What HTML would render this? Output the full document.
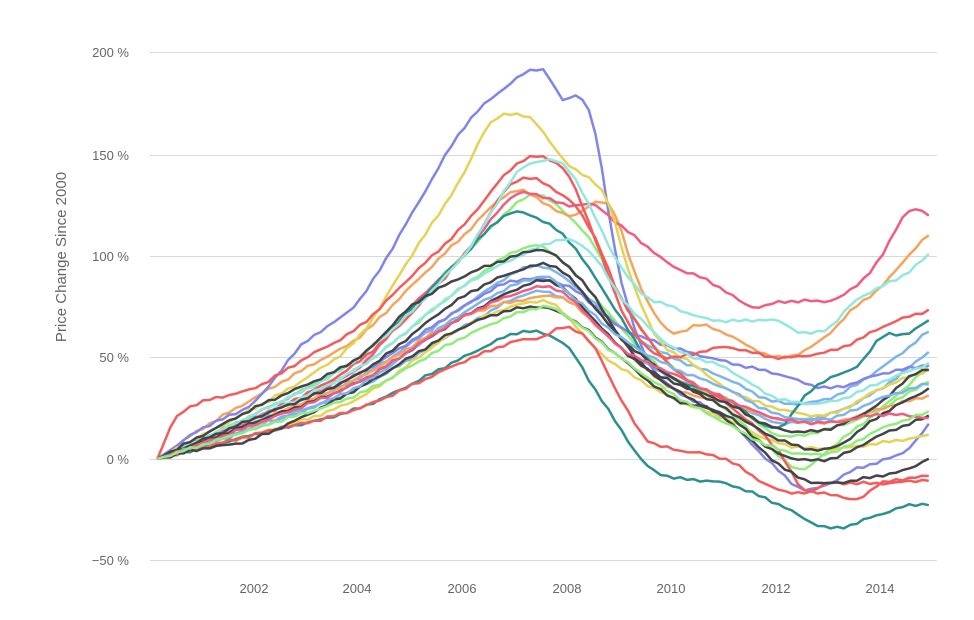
<!DOCTYPE html>
<html><head><meta charset="utf-8"><style>
html,body{margin:0;padding:0;background:#fff;}
svg{display:block;font-family:"Liberation Sans",sans-serif;}
</style></head><body>
<svg id="c" width="974" height="620" xmlns="http://www.w3.org/2000/svg">
<g stroke="#d8d8d8" stroke-width="1">
<line x1="150" x2="937" y1="52.5" y2="52.5"/>
<line x1="150" x2="937" y1="155.5" y2="155.5"/>
<line x1="150" x2="937" y1="256.5" y2="256.5"/>
<line x1="150" x2="937" y1="357.5" y2="357.5"/>
<line x1="150" x2="937" y1="459.5" y2="459.5"/>
<line x1="150" x2="937" y1="560.5" y2="560.5"/>
</g>
<g fill="#666" font-size="13" text-anchor="end">
<text x="129" y="57">200 %</text>
<text x="129" y="160">150 %</text>
<text x="129" y="261">100 %</text>
<text x="129" y="362">50 %</text>
<text x="129" y="464">0 %</text>
<text x="129" y="565">−50 %</text>
</g>
<g fill="#666" font-size="13" text-anchor="middle">
<text x="254" y="593">2002</text>
<text x="357" y="593">2004</text>
<text x="462" y="593">2006</text>
<text x="567" y="593">2008</text>
<text x="671" y="593">2010</text>
<text x="776" y="593">2012</text>
<text x="880" y="593">2014</text>
</g>
<text transform="translate(66,257) rotate(-90)" fill="#666" font-size="15" text-anchor="middle">Price Change Since 2000</text>
<g id="lines" fill="none" stroke-width="2.5" stroke-linejoin="round"></g>
</svg>
<script>
var S=[
["#7cb5ec",[[2000.15,0],[2002,18],[2004,40],[2006,75],[2007.3,95],[2008,88],[2009,65],[2010,50],[2011,40],[2012,28],[2013,30],[2014,45],[2015,65]]],
["#7cb5ec",[[2000.15,0],[2002,15],[2004,35],[2006,65],[2007.3,82],[2008,78],[2009,55],[2010,40],[2011,30],[2012,18],[2013,22],[2014,35],[2015,55]]],
["#90ed7d",[[2000.15,0],[2002,22],[2004,50],[2005,75],[2006,100],[2007.3,130],[2008,120],[2008.5,105],[2009,80],[2010,45],[2011,25],[2012,2],[2012.5,-5],[2013,5],[2014,25],[2015,48]]],
["#90ed7d",[[2000.15,0],[2002,20],[2004,45],[2006,85],[2007.3,105],[2008,95],[2009,65],[2010,40],[2011,30],[2012,12],[2013,15],[2014,25],[2015,40]]],
["#f7a35c",[[2000.15,0],[2001,15],[2002,30],[2003,45],[2004,60],[2005,85],[2006,110],[2007,132],[2008,120],[2008.8,125],[2009.3,90],[2009.7,70],[2010,62],[2010.5,66],[2011,62],[2011.5,55],[2012,50],[2012.5,53],[2013,62],[2013.5,75],[2014,85],[2014.5,100],[2015,113]]],
["#f7a35c",[[2000.15,0],[2002,18],[2004,40],[2006,70],[2007.5,80],[2008,78],[2009,55],[2010,35],[2011,28],[2012,20],[2013,18],[2014,25],[2015,32]]],
["#8085e9",[[2000.15,0],[2001,15],[2002,28],[2002.7,50],[2003,58],[2004,78],[2005,120],[2006,163],[2006.8,183],[2007.5,192],[2007.9,177],[2008.2,179],[2008.5,163],[2009,90],[2009.5,50],[2010,35],[2011,20],[2012,-5],[2012.5,-15],[2013,-12],[2013.5,-5],[2014,-1],[2014.5,5],[2015,20]]],
["#8085e9",[[2000.15,0],[2002,20],[2004,42],[2006,75],[2007,88],[2008,85],[2009,65],[2010,55],[2011,48],[2012,42],[2013,35],[2014,42],[2015,47]]],
["#f15c80",[[2000.15,0],[2002,20],[2004,45],[2005,75],[2006,100],[2007,130],[2008,125],[2008.5,125],[2009,115],[2009.5,105],[2010,95],[2010.5,90],[2011,83],[2011.5,75],[2012,77],[2012.5,78],[2013,78],[2013.5,85],[2014,100],[2014.5,122],[2015,119]]],
["#e4d354",[[2000.15,0],[2002,25],[2003,40],[2004,60],[2005,100],[2006,140],[2006.5,165],[2007.2,169],[2007.7,155],[2008,145],[2008.7,130],[2009.2,90],[2009.7,60],[2010.5,45],[2011,35],[2012,25],[2013,22],[2014,35],[2015,45]]],
["#e4d354",[[2000.15,0],[2002,12],[2004,30],[2006,65],[2007.5,78],[2008,70],[2008.5,55],[2009,45],[2010,30],[2011,20],[2012,8],[2013,5],[2014,8],[2015,12]]],
["#2b908f",[[2000.15,0],[2002,12],[2004,25],[2006,50],[2007,62],[2007.5,62],[2008,55],[2008.5,35],[2009,15],[2009.5,-3],[2010,-9],[2011,-12],[2012,-22],[2013,-34],[2014,-27],[2014.5,-23],[2015,-22]]],
["#2b908f",[[2000.15,0],[2002,22],[2004,50],[2006,100],[2006.8,120],[2007.3,120],[2008,108],[2008.5,90],[2009,70],[2009.5,50],[2010,40],[2011,30],[2012,15],[2012.5,30],[2013,40],[2013.5,45],[2014,60],[2014.5,62],[2015,70]]],
["#f45b5b",[[2000.15,0],[2000.5,20],[2001,28],[2002,35],[2003,50],[2004,65],[2005,90],[2006,115],[2006.8,140],[2007.2,148],[2007.6,148],[2008,140],[2008.5,110],[2009,75],[2009.5,55],[2010,50],[2011,55],[2012,50],[2013,53],[2013.5,58],[2014,65],[2014.5,70],[2015,74]]],
["#f45b5b",[[2000.15,0],[2002,12],[2004,25],[2006,48],[2007,58],[2007.5,60],[2008,65],[2008.5,55],[2009,30],[2009.5,10],[2010,5],[2011,0],[2012,-15],[2013,-17],[2013.5,-20],[2014,-12],[2015,-8]]],
["#f45b5b",[[2000.15,0],[2002,20],[2004,48],[2006,100],[2007,137],[2008,128],[2008.5,110],[2009,80],[2010,45],[2011,28],[2012,5],[2012.5,-15],[2013,-12],[2014,-12],[2015,-10]]],
["#91e8e1",[[2000.15,0],[2002,22],[2004,50],[2006,100],[2007,140],[2007.5,147],[2008,143],[2008.5,120],[2009,95],[2009.5,80],[2010,75],[2010.5,70],[2011,68],[2012,68],[2012.5,62],[2013,65],[2013.5,78],[2014,85],[2014.5,92],[2015,103]]],
["#91e8e1",[[2000.15,0],[2002,20],[2004,45],[2006,85],[2007.5,105],[2008,108],[2008.5,100],[2009,80],[2010,55],[2011,45],[2012,30],[2013,28],[2014,38],[2015,48]]],
["#434348",[[2000.15,0],[2002,25],[2004,50],[2005,75],[2006,90],[2007,100],[2007.5,103],[2008,95],[2008.5,80],[2009,60],[2009.5,45],[2010,38],[2011,28],[2012,15],[2013,15],[2014,28],[2014.5,40],[2015,45]]],
["#434348",[[2000.15,0],[2002,18],[2004,38],[2006,70],[2007.5,88],[2008,82],[2009,55],[2010,35],[2011,20],[2012,-2],[2012.5,-10],[2013,-12],[2014,-8],[2014.5,-5],[2015,2]]],
["#434348",[[2000.15,0],[2001,5],[2002,10],[2004,35],[2006,65],[2007.3,75],[2008,70],[2009,50],[2010,30],[2011,22],[2012,3],[2013,0],[2014,12],[2015,22]]],
["#434348",[[2000.15,0],[2002,20],[2004,42],[2006,80],[2007.5,96],[2008,90],[2009,60],[2010,40],[2011,25],[2012,10],[2013,5],[2014,22],[2015,36]]],
["#7cb5ec",[[2000.15,0],[2002,16],[2004,36],[2006,72],[2007.5,90],[2008,82],[2009,60],[2010,45],[2011,35],[2012,22],[2013,20],[2014,30],[2015,38]]],
["#f15c80",[[2000.15,0],[2002,17],[2004,38],[2006,70],[2007.5,85],[2008,80],[2009,55],[2010,42],[2011,30],[2012,20],[2013,18],[2014,22],[2015,20]]],
["#90ed7d",[[2000.15,0],[2002,15],[2004,32],[2006,60],[2007.5,75],[2008,70],[2009,50],[2010,32],[2011,18],[2012,5],[2013,3],[2014,15],[2015,24]]]
];
var g=document.getElementById("lines"),ns="http://www.w3.org/2000/svg";
function interp(p,t){
 for(var i=0;i<p.length-1;i++){ if(t<=p[i+1][0]) break; }
 if(i>=p.length-1) i=p.length-2;
 var p0=p[Math.max(i-1,0)],p1=p[i],p2=p[i+1],p3=p[Math.min(i+2,p.length-1)];
 var u=(t-p1[0])/(p2[0]-p1[0]); if(u<0)u=0; if(u>1)u=1;
 var m1=(p2[1]-p0[1])/(p2[0]-p0[0]||1)*(p2[0]-p1[0]);
 var m2=(p3[1]-p1[1])/(p3[0]-p1[0]||1)*(p2[0]-p1[0]);
 if(i==0) m1=p2[1]-p1[1];
 if(i+2>=p.length) m2=p2[1]-p1[1];
 var u2=u*u,u3=u2*u;
 return (2*u3-3*u2+1)*p1[1]+(u3-2*u2+u)*m1+(-2*u3+3*u2)*p2[1]+(u3-u2)*m2;
}
S.forEach(function(s,k){
 var p=s[1],pts=[];
 for(var t=2000.15;t<=2015.001;t+=0.125){
  var v=interp(p,t);
  if(t>2000.3) v+=Math.sin(t*23.1+k*1.7)*0.5+Math.sin(t*41.3+k*3.1)*0.3;
  pts.push((149.5+(t-2000)*52.3).toFixed(1)+","+(459-v*2.03).toFixed(1));
 }
 var pl=document.createElementNS(ns,"polyline");
 pl.setAttribute("points",pts.join(" "));pl.setAttribute("stroke",s[0]);g.appendChild(pl);
});
</script>
</body></html>
